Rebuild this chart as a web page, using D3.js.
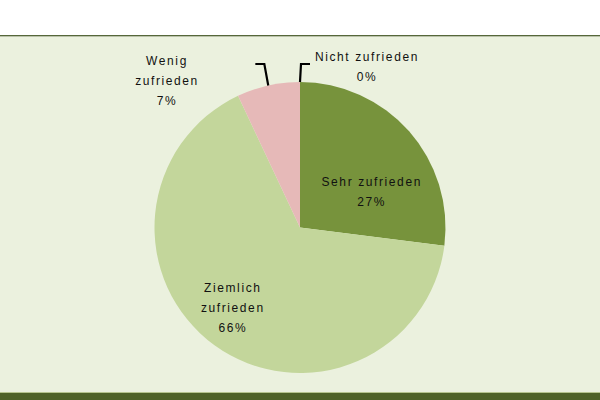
<!DOCTYPE html>
<html>
<head>
<meta charset="utf-8">
<script src="https://cdn.jsdelivr.net/npm/d3@7"></script>
<style>
  body { margin: 0; background: #fff; }
  svg { display: block; }
  text { font-family: "Liberation Sans", Arial, sans-serif; font-size: 12px; fill: #111; letter-spacing: 1.6px; }
</style>
</head>
<body>
<div id="chart"></div>
<script>
    // Data
    categories = ["Sehr zufrieden", "Ziemlich zufrieden", "Wenig zufrieden", "Nicht zufrieden"]
    values = [27, 66, 7, 0]
    colors = ["#77933c", "#c3d69b", "#e6b9b8", "#b7484a"]
    // label lines as shown in the picture (text wraps)
    labelLines = [
        ["Sehr zufrieden", "27%"],
        ["Ziemlich", "zufrieden", "66%"],
        ["Wenig", "zufrieden", "7%"],
        ["Nicht zufrieden", "0%"]
    ]

    canvas = ({width: 600, height: 400})
    center = ({x: 300, y: 227.5})
    radius = 145.5
    lineH = 20

    // layout of labels: inside ones by angle/radius, outside ones above the pie with a leader
    labelLayout = [
        {angle: 63.7, r: 80, outside: false},
        {angle: 219.8, r: 105, outside: false},
        {angle: -42.2, r: 198, outside: true, side: -1},
        {angle: 22.7, r: 173.5, outside: true, side: 1}
    ]

    var svg = d3.select("#chart").append("svg")
        .attr("width", canvas.width)
        .attr("height", canvas.height)
        .attr("viewBox", [0, 0, canvas.width, canvas.height])

    // Background panels
    svg.append("rect").attr("x", 0).attr("y", 0).attr("width", canvas.width).attr("height", canvas.height).attr("fill", "#fff")
    svg.append("rect").attr("x", 0).attr("y", 35).attr("width", canvas.width).attr("height", 1.6).attr("fill", "#56673a")
    svg.append("rect").attr("x", 0).attr("y", 36.6).attr("width", canvas.width).attr("height", 356).attr("fill", "#ebf1de")
    svg.append("rect").attr("x", 0).attr("y", 392).attr("width", canvas.width).attr("height", 1).attr("fill", "#b6c48e")
    svg.append("rect").attr("x", 0).attr("y", 393).attr("width", canvas.width).attr("height", 7).attr("fill", "#4f6228")

    // Pie
    pie = d3.pie().sort(null).value(d => d)
    arcs = pie(values)
    arc = d3.arc().innerRadius(0).outerRadius(radius)

    var g = svg.append("g").attr("transform", `translate(${center.x},${center.y})`)

    g.selectAll("path.slice")
        .data(arcs)
        .join("path")
        .attr("class", "slice")
        .attr("fill", (d, i) => colors[i])
        .attr("d", arc)

    polar = (deg, r) => {
        const a = deg * Math.PI / 180
        return [r * Math.sin(a), -r * Math.cos(a)]
    }

    // Leader lines for outside labels
    arcs.forEach((d, i) => {
        const L = labelLayout[i]
        if (!L.outside) return
        const mid = (d.startAngle + d.endAngle) / 2
        const p0 = [radius * Math.sin(mid), -radius * Math.cos(mid)]
        const p1 = [(radius + 18) * Math.sin(mid) + (L.side > 0 ? 1 : 0), -(radius + 18)]
        const p2 = [p1[0] + L.side * 9, p1[1]]
        g.append("path")
            .attr("fill", "none")
            .attr("stroke", "#000")
            .attr("stroke-width", 2.2)
            .attr("d", d3.line()([p0, p1, p2]))
    })

    // Labels
    arcs.forEach((d, i) => {
        const L = labelLayout[i]
        const lines = labelLines[i]
        const pos = polar(L.angle, L.r)
        const y0 = pos[1] - (lines.length - 1) * lineH / 2
        const t = g.append("text")
            .attr("text-anchor", "middle")
            .attr("dominant-baseline", "central")
        lines.forEach((s, k) => {
            t.append("tspan")
                .attr("x", pos[0])
                .attr("y", y0 + k * lineH)
                .text(s)
        })
    })
</script>
</body>
</html>
